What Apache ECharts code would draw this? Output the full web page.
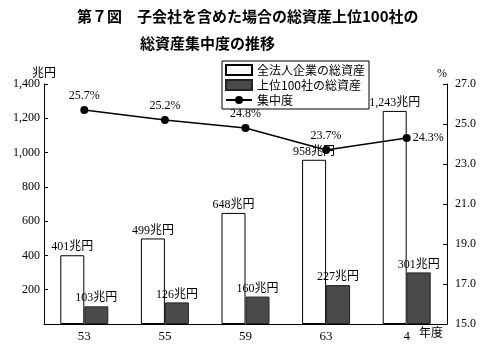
<!DOCTYPE html>
<html>
<head>
<meta charset="utf-8">
<script src="https://cdn.jsdelivr.net/npm/echarts@6/dist/echarts.min.js"></script>
<style>
  html, body { margin: 0; padding: 0; background: #fff; }
  #chart { width: 500px; height: 352px; }
</style>
</head>
<body>
<div id="chart"></div>
<script>
// 年度
const years = ['53', '55', '59', '63', '4']
// 全法人企業の総資産 (兆円)
const totalAssets = [401, 499, 648, 958, 1243]
// 上位100社の総資産 (兆円)
const top100Assets = [103, 126, 160, 227, 301]
// 集中度 (%)
const concentration = [25.7, 25.2, 24.8, 23.7, 24.3]

const serif = '"Liberation Serif", "Noto Sans CJK JP", serif'
const gothic = '"Noto Sans CJK JP", sans-serif'

const chart = echarts.init(document.getElementById('chart'))

const fmtYen = (v) => v.toLocaleString('en-US') + '兆円'

const options = {
  animation: false,
  backgroundColor: '#fff',
  textStyle: { fontFamily: serif, color: '#000' },
  title: [
    {
      text: '第７図　子会社を含めた場合の総資産上位100社の',
      left: 72,
      top: 4,
      textStyle: { fontFamily: gothic, fontSize: 15, fontWeight: 'bold', color: '#000' },
    },
    {
      text: '総資産集中度の推移',
      left: 135,
      top: 31,
      textStyle: { fontFamily: gothic, fontSize: 15, fontWeight: 'bold', color: '#000' },
    },
  ],
  legend: {
    orient: 'vertical',
    left: 222,
    top: 61,
    padding: [3, 4, 3, 3],
    itemGap: 3,
    itemWidth: 26,
    itemHeight: 10,
    borderColor: '#000',
    borderWidth: 1,
    backgroundColor: '#fff',
    textStyle: { fontFamily: gothic, fontSize: 12, color: '#000' },
    data: [
      { name: '全法人企業の総資産', icon: 'rect' },
      { name: '上位100社の総資産', icon: 'rect' },
      { name: '集中度' },
    ],
  },
  grid: {
    left: 44,
    right: 53,
    top: 84,
    bottom: 28,
  },
  xAxis: {
    type: 'category',
    data: years,
    axisLine: { lineStyle: { color: '#000', width: 1 } },
    axisTick: { show: false },
    axisLabel: { fontFamily: serif, fontSize: 13, color: '#000', margin: 6 },
  },
  yAxis: [
    {
      type: 'value',
      min: 0,
      max: 1400,
      interval: 200,
      name: '兆円',
      nameGap: 4,
      nameTextStyle: { fontFamily: gothic, fontSize: 12, color: '#000', align: 'center' },
      axisLine: { show: true, lineStyle: { color: '#000', width: 1 } },
      axisTick: { show: true, inside: true, length: 4, lineStyle: { color: '#000' } },
      axisLabel: {
        fontFamily: serif,
        fontSize: 12,
        color: '#000',
        margin: 4,
        formatter: (v) => (v === 0 ? '' : v.toLocaleString('en-US')),
      },
      splitLine: { show: false },
    },
    {
      type: 'value',
      min: 15,
      max: 27,
      interval: 2,
      name: '%',
      nameGap: 4,
      nameTextStyle: { fontFamily: serif, fontSize: 12, color: '#000', align: 'right' },
      axisLine: { show: true, lineStyle: { color: '#000', width: 1 } },
      axisTick: { show: true, inside: true, length: 4, lineStyle: { color: '#000' } },
      axisLabel: {
        fontFamily: serif,
        fontSize: 12,
        color: '#000',
        margin: 8,
        formatter: (v) => v.toFixed(1),
      },
      splitLine: { show: false },
    },
  ],
  graphic: [
    {
      type: 'text',
      left: 419,
      top: 326,
      style: { text: '年度', fontFamily: gothic, fontSize: 12, fill: '#000' },
    },
  ],
  series: [
    {
      name: '全法人企業の総資産',
      type: 'bar',
      data: totalAssets,
      barWidth: 24,
      barGap: '0%',
      itemStyle: { color: '#fff', borderColor: '#000', borderWidth: 1 },
      label: {
        show: true,
        position: 'top',
        distance: 2,
        fontFamily: serif,
        fontSize: 12,
        color: '#000',
        formatter: (p) => fmtYen(p.value),
      },
    },
    {
      name: '上位100社の総資産',
      type: 'bar',
      data: top100Assets,
      barWidth: 24,
      barGap: '0%',
      itemStyle: { color: '#4a4a4a', borderColor: '#222', borderWidth: 1 },
      label: {
        show: true,
        position: 'top',
        distance: 2,
        fontFamily: serif,
        fontSize: 12,
        color: '#000',
        formatter: (p) => fmtYen(p.value),
      },
    },
    {
      name: '集中度',
      type: 'line',
      yAxisIndex: 1,
      data: concentration.map((v, i) => (i === concentration.length - 1
        ? { value: v, label: { position: 'right', distance: 2 } }
        : v)),
      symbol: 'circle',
      symbolSize: 8,
      z: 5,
      itemStyle: { color: '#000' },
      lineStyle: { color: '#000', width: 1.5 },
      label: {
        show: true,
        position: 'top',
        distance: 4,
        fontFamily: serif,
        fontSize: 12,
        color: '#000',
        formatter: (p) => p.value.toFixed(1) + '%',
      },
    },
  ],
}

chart.setOption(options)
</script>
</body>
</html>
